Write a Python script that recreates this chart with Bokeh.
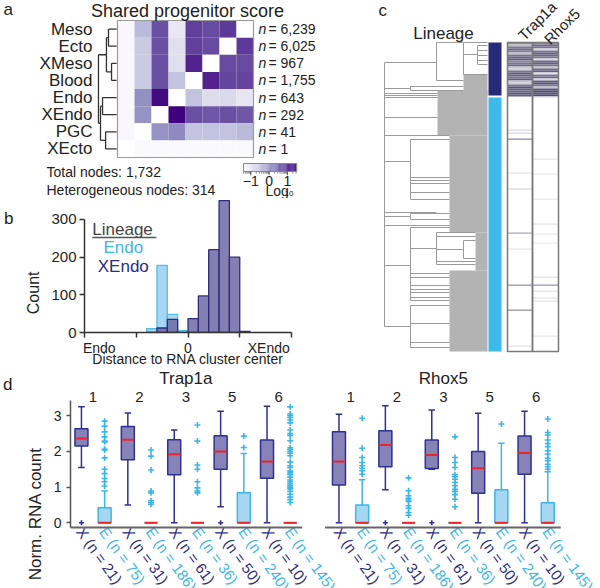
import numpy as np
from bokeh.plotting import figure
from bokeh.models import Range1d, ColumnDataSource, LinearColorMapper, FixedTicker, LinearAxis
from bokeh.layouts import row, column
from bokeh.core.properties import value
from bokeh.palettes import Purples256
from bokeh.transform import transform
from bokeh.embed import file_html
from bokeh.resources import INLINE

FONT = "Liberation Sans"
NAVY = "#2e3190"
NAVY_TXT = "#2a2c7e"
LBLUE = "#3cb6ea"
XFILL = "#8782b8"
EFILL = "#a6d7f2"
RED = "#e8262c"
NaN = float("nan")

# ---------------- panel a data ----------------
lineages = ["Meso", "Ecto", "XMeso", "Blood", "Endo", "XEndo", "PGC", "XEcto"]
lineage_n = ["6,239", "6,025", "967", "1,755", "643", "292", "41", "1"]
score_cols = ["XEcto", "PGC", "XEndo", "Endo", "Blood", "XMeso", "Ecto", "Meso"]
score = [
    [-1.40, -0.35, 0.75, -1.00, 0.90, 0.80, 0.95, NaN],
    [-1.40, -0.55, 0.75, -0.85, 0.90, 0.80, NaN, 0.95],
    [-1.40, -0.55, 0.75, -0.85, 1.15, NaN, 0.80, 0.80],
    [-1.40, -0.55, 0.75, -0.45, NaN, 1.15, 0.85, 0.85],
    [-1.40, 0.15, 1.40, NaN, -0.45, -0.80, -0.75, -0.95],
    [-1.40, 0.10, NaN, 1.48, 0.75, 0.70, 0.75, 0.70],
    [-1.40, NaN, 0.10, 0.20, -0.45, -0.45, -0.45, -0.35],
    [NaN, -1.45, -1.45, -1.45, -1.45, -1.45, -1.45, -1.45],
]
merges_a = [(2, 3, 0.35), (0, 1, 0.53), (9, 8, 0.65), (4, 5, 0.88), (6, 7, 0.70), (11, 12, 1.0), (10, 13, 1.12)]
total_nodes = "1,732"
hetero_nodes = "314"
cbar_low, cbar_high = -1.4, 1.5
cbar_ticks = [-1, 0, 1]

# ---------------- panel b data ----------------
hist_left = [-0.4, -0.3, -0.2, -0.1, 0.0, 0.1, 0.2, 0.3, 0.4, 0.5]
hist_width = 0.1
endo_counts = [10, 178, 48, 5, 0, 0, 0, 0, 0, 0]
xendo_counts = [0, 12, 35, 0, 37, 97, 220, 350, 200, 3]
b_ticks = [-1, -0.5, 0, 0.5, 1]
b_tick_labels = {-0.857: "Endo", 0: "0", 0.78: "XEndo"}
b_count_ticks = [0, 100, 200, 300]

# ---------------- panel c data ----------------
n_leaves = 309
xendo_leaves = (0, 53)
endo_leaves = (55, 309)
dend_v = [(0, 20, 284), (52, 0, 38), (79, 0, 32), (93, 3, 22), (26, 44, 48), (26, 97, 157),
          (26, 171, 177), (26, 185, 258), (52, 190, 222), (79, 198, 216), (26, 263, 305)]
dend_h = [(20, 0, 52), (46, 0, 26), (51, 0, 53), (53, 0, 53), (55, 0, 53), (75, 0, 53), (93, 0, 65),
          (119, 0, 26), (170, 0, 52), (174, 0, 26), (183, 0, 65), (223, 0, 26), (284, 0, 26),
          (44, 26, 79), (48, 26, 79),
          (0, 52, 79), (38, 52, 79), (0, 79, 103), (12, 79, 93), (32, 79, 103),
          (3, 93, 103), (8, 93, 103), (13, 93, 103), (18, 93, 103), (22, 93, 103),
          (97, 26, 65), (135, 26, 65), (138, 26, 65), (141, 26, 65), (150, 26, 65), (157, 26, 65),
          (171, 26, 65), (177, 26, 65),
          (185, 26, 65), (206, 26, 52), (231, 26, 65), (235, 26, 65), (243, 26, 65), (247, 26, 65),
          (250, 26, 65), (255, 26, 65), (258, 26, 65),
          (190, 52, 91), (194, 52, 91), (207, 52, 79), (219, 52, 91), (222, 52, 91),
          (198, 79, 91), (216, 79, 91),
          (263, 26, 65), (281, 26, 65), (300, 26, 65), (305, 26, 65)]
leaf_blocks = [(79, 32, 53), (53, 48, 93), (65, 93, 190), (91, 190, 228), (65, 228, 309)]
genes_c = ["Trap1a", "Rhox5"]
trap_top = [0.55, 0.35, 0.7, 0.75, 0.65, 0.3, 0.7, 0.75, 0.8, 0.6, 0.7, 0.75, 0.3, 0.25,
            0.7, 0.8, 0.75, 0.7, 0.8, 0.3, 0.25, 0.7, 0.85, 0.8, 0.75, 0.85, 0.8]
rhox_top = [0.6, 0.75, 0.7, 0.2, 0.7, 0.8, 0.75, 0.7, 0.2, 0.75, 0.8, 0.7, 0.3, 0.75,
            0.8, 0.15, 0.7, 0.75, 0.2, 0.8, 0.85, 0.7, 0.3, 0.85, 0.9, 0.85, 0.9]
trap_lines_leaf = [87, 90, 96, 130, 146, 190, 206, 242, 267, 303]
trap_lines_val = [0.2, 0.2, 0.6, 0.15, 0.2, 0.45, 0.15, 0.55, 0.55, 0.15]
rhox_lines_leaf = [54, 116, 131, 156, 181, 191, 200, 234, 242, 248, 255, 258, 293]
rhox_lines_val = [0.15, 0.15, 0.12, 0.12, 0.15, 0.12, 0.1, 0.15, 0.5, 0.15, 0.15, 0.15, 0.12]

# ---------------- panel d data ----------------
groups = ["1", "2", "3", "5", "6"]
n_x = [21, 31, 61, 50, 10]
n_e = [75, 186, 36, 240, 145]
d_ticks = [0, 1, 2, 3]
trap_x = dict(lo=[1.55, 0.5, 0.0, 0.45, 0.0], q1=[2.15, 1.77, 1.35, 1.5, 1.25],
              med=[2.36, 2.33, 1.92, 2.0, 1.72], q3=[2.64, 2.7, 2.33, 2.44, 2.32],
              hi=[3.25, 3.08, 2.6, 3.13, 3.27])
trap_x_out = [[0.0], [], [], [0.0], []]
trap_e = dict(lo=[0, 0, 0, 0, 0], q1=[0, 0, 0, 0, 0], med=[0, 0, 0, 0, 0],
              q3=[0.42, 0, 0, 0.84, 0], hi=[0.89, 0, 0, 1.94, 0])
trap_e_out = [[2.85, 2.71, 2.55, 2.41, 2.29, 2.27, 2.06, 2.04, 1.82, 1.50, 1.38, 1.24, 1.15, 1.03],
              [2.04, 1.87, 1.48, 0.89, 0.84, 0.62, 0.57, 0.52],
              [2.74, 2.29, 1.62, 1.50, 1.15, 0.98, 0.89, 0.84],
              [2.43, 2.11],
              [3.25, 3.05, 3.0, 2.95, 2.88, 2.8, 2.6, 2.5, 2.45, 2.3, 2.1, 2.05, 2.0, 1.95, 1.88, 1.7,
               1.6, 1.55, 1.45, 1.4, 1.35, 1.28, 1.2, 1.15, 1.1, 1.05, 1.0, 0.95, 0.88, 0.8, 0.72,
               0.65, 0.57]]
rhox_x = dict(lo=[0, 0.93, 1.5, 0, 0], q1=[1.06, 1.57, 1.52, 0.83, 1.36],
              med=[1.72, 2.18, 1.9, 1.53, 1.96], q3=[2.55, 2.58, 2.32, 2.0, 2.43],
              hi=[3.04, 3.28, 3.16, 3.07, 3.13])
rhox_x_out = [[], [0.0], [0.0], [], []]
rhox_e = dict(lo=[0, 0, 0, 0, 0], q1=[0, 0, 0, 0, 0], med=[0, 0, 0, 0, 0],
              q3=[0.5, 0, 0, 0.93, 0.56], hi=[1.21, 0, 0, 2.23, 1.43])
rhox_e_out = [[2.93, 2.09, 1.83, 1.69, 1.6, 1.53, 1.46, 1.36],
              [1.26, 0.9, 0.76, 0.69, 0.64, 0.6, 0.48, 0.41, 0.29, 0.21],
              [2.41, 1.83, 1.69, 1.55, 1.35, 1.29, 1.22, 1.13, 1.04, 0.94, 0.88, 0.79, 0.66, 0.45],
              [2.77],
              [2.91, 2.53, 2.46, 2.32, 2.22, 2.13, 2.02, 1.93, 1.81, 1.74, 1.64, 1.57, 1.5]]


# ---------------- helpers ----------------
def make_fig(w, h, xr, yr, axes=False, **kw):
    if not axes:
        kw.setdefault("x_axis_location", None)
        kw.setdefault("y_axis_location", None)
    p = figure(width=w, height=h, x_range=xr, y_range=yr, output_backend="svg",
               toolbar_location=None, **kw)
    p.grid.visible = False
    p.outline_line_color = None
    p.min_border_left = p.min_border_right = p.min_border_top = p.min_border_bottom = 0
    p.background_fill_color = "white"
    p.border_fill_color = "white"
    p.frame_align = False
    return p


def txt(p, x, y, s, size, color="#222222", align="left", baseline="middle", angle=0.0, style="normal"):
    p.text(x=[x], y=[y], text=[s], text_font=value(FONT), text_font_size=f"{size}px",
           text_color=color, text_align=align, text_baseline=baseline, angle=angle,
           text_font_style=style)


def style_axis(ax, tick_out=5):
    ax.axis_line_color = "#333333"
    ax.axis_line_width = 1.5
    ax.major_tick_line_color = "#333333"
    ax.major_tick_line_width = 1.5
    ax.major_tick_in = 0
    ax.major_tick_out = tick_out
    ax.minor_tick_line_color = None
    ax.major_label_text_font = FONT
    ax.major_label_text_color = "#222222"


def text_axis(p, pos, text, standoff, size, side="left", orientation="horizontal"):
    ax = LinearAxis(ticker=FixedTicker(ticks=[pos]), major_label_overrides={pos: text},
                    axis_line_color=None, major_tick_line_color=None, minor_tick_line_color=None,
                    major_tick_in=0, major_tick_out=0,
                    major_label_standoff=standoff, major_label_text_font=FONT,
                    major_label_text_font_size=f"{size}px", major_label_text_color="#222222",
                    major_label_orientation=orientation)
    p.add_layout(ax, side)


def interp_palette(c0, c1, n):
    a = np.array([int(c0[i:i + 2], 16) for i in (1, 3, 5)], float)
    b = np.array([int(c1[i:i + 2], 16) for i in (1, 3, 5)], float)
    return ["#%02x%02x%02x" % tuple(np.round(a + (b - a) * t).astype(int)) for t in np.linspace(0, 1, n)]


# ================= panel a =================
WA, HA = 372, 198
CW, CH, HX, HY = 17.0, 17.125, 117.0, 20.0
ax_ = lambda px: (px - HX) / CW
ay_ = lambda py: (py - HY) / CH
pa = make_fig(WA, HA, Range1d(ax_(0), ax_(WA)), Range1d(ay_(HA), ay_(0)))

mapper = LinearColorMapper(palette=list(Purples256[::-1]), low=-1.5, high=1.5, nan_color="white")
cx, cy, cv = [], [], []
for r, rowvals in enumerate(score):
    for c, v in enumerate(rowvals):
        cx.append(c + 0.5)
        cy.append(r + 0.5)
        cv.append(v)
pa.rect(x="x", y="y", width=1, height=1, source=ColumnDataSource(dict(x=cx, y=cy, v=cv)),
        fill_color=transform("v", mapper), line_color=None)
pa.quad(left=[0], right=[len(score_cols)], top=[0], bottom=[len(lineages)], fill_color=None,
        line_color="#9a9a9a", line_width=1.2)

node_y = {i: i + 0.5 for i in range(len(lineages))}
node_h = {i: 0.05 for i in range(len(lineages))}
x0s, y0s, x1s, y1s = [], [], [], []
for k, (a, b, h) in enumerate(merges_a):
    nid = len(lineages) + k
    ya, yb = node_y[a], node_y[b]
    x0s += [-h, -node_h[a], -node_h[b]]
    y0s += [ya, ya, yb]
    x1s += [-h, -h, -h]
    y1s += [yb, ya, yb]
    node_y[nid] = (ya + yb) / 2
    node_h[nid] = h
pa.segment(x0=x0s, y0=y0s, x1=x1s, y1=y1s, line_color="#333333", line_width=1.3)

for i, name in enumerate(lineages):
    txt(pa, ax_(92), i + 0.5, name, 17, align="right")
    txt(pa, ax_(258), i + 0.5, "n", 14, style="italic")
    txt(pa, ax_(268), i + 0.5, "= " + lineage_n[i], 14)

txt(pa, ax_(3), ay_(9), "a", 17)
txt(pa, ax_(187), ay_(10), "Shared progenitor score", 18, align="center")
txt(pa, ax_(46), ay_(171), "Total nodes: " + total_nodes, 14)
txt(pa, ax_(46), ay_(189), "Heterogeneous nodes: " + hetero_nodes, 14)

CB_X0, CB_X1, CB_Y0, CB_Y1 = ax_(243), ax_(296), ay_(163), ay_(171)
cb_vals = np.linspace(cbar_low, cbar_high, 60)
cb_pos = lambda v: CB_X0 + (np.asarray(v) - cbar_low) / (cbar_high - cbar_low) * (CB_X1 - CB_X0)
cb_step = (CB_X1 - CB_X0) / (len(cb_vals) - 1)
pa.quad(left="l", right="r", top=CB_Y0, bottom=CB_Y1,
        source=ColumnDataSource(dict(l=cb_pos(cb_vals) - cb_step / 2, r=cb_pos(cb_vals) + cb_step / 2 + 0.01,
                                     v=cb_vals)),
        fill_color=transform("v", mapper), line_color=None)
pa.quad(left=[CB_X0], right=[CB_X1], top=[CB_Y0], bottom=[CB_Y1], fill_color=None,
        line_color="#888888", line_width=1)
minor = [np.log10(k * d) for d in (0.01, 0.1, 1, 10) for k in range(1, 10)]
minor = [m for m in minor if cbar_low <= m <= cbar_high]
pa.segment(x0=cb_pos(minor), y0=CB_Y1, x1=cb_pos(minor), y1=CB_Y1 + 0.13, line_color="#777777", line_width=0.8)
pa.segment(x0=cb_pos(cbar_ticks), y0=CB_Y1, x1=cb_pos(cbar_ticks), y1=CB_Y1 + 0.22, line_color="#555555", line_width=1)
for t in cbar_ticks:
    txt(pa, float(cb_pos(t)), ay_(180), ("\u2212" + str(abs(t))) if t < 0 else str(t), 14, align="center")
txt(pa, ax_(265), ay_(190), "Log", 14)
txt(pa, ax_(284), ay_(193), "10", 8)

# ================= panel b =================
WB, HB = 372, 172
bx_ = lambda px: (px - 187.7) / 103.5
by_ = lambda py: (332.0 - py) / 0.3767
B_TOP = 198
pb = make_fig(WB, HB, Range1d(-1, 1), Range1d(0, by_(B_TOP)), axes=True)
pb.min_border_left = 84
pb.min_border_right = WB - 291
pb.min_border_top = 0
pb.min_border_bottom = B_TOP + HB - 332
hl = np.array(hist_left)
pb.quad(left=hl, right=hl + hist_width, bottom=0, top=endo_counts, fill_color=EFILL,
        line_color="#55bde9", line_width=1.3)
pb.quad(left=hl, right=hl + hist_width, bottom=0, top=xendo_counts, fill_color="#6f68a6",
        fill_alpha=0.85, line_color="#2e2d7a", line_width=1.3)
xa = pb.xaxis[0]
style_axis(xa)
xa.ticker = FixedTicker(ticks=b_ticks)
xa.major_label_overrides = {t: " " for t in b_ticks}
xa.major_label_text_font_size = "1px"
xa.major_label_standoff = 0
xa.axis_label_standoff = 0
xb = LinearAxis(ticker=FixedTicker(ticks=list(b_tick_labels.keys())), major_label_overrides=b_tick_labels,
                axis_line_color=None, major_tick_line_color=None, minor_tick_line_color=None,
                major_tick_in=0, major_tick_out=0,
                major_label_standoff=-2, major_label_text_font=FONT, major_label_text_font_size="14px",
                major_label_text_color="#222222", axis_label="Distance to RNA cluster center",
                axis_label_text_font=FONT, axis_label_text_font_size="14px",
                axis_label_text_font_style="normal", axis_label_text_color="#222222",
                axis_label_standoff=-8)
pb.add_layout(xb, "below")
ya_b = pb.yaxis[0]
style_axis(ya_b)
ya_b.ticker = FixedTicker(ticks=b_count_ticks)
ya_b.bounds = (0, 300)
ya_b.major_label_text_font_size = "15px"
ya_b.major_label_standoff = 3
text_axis(pb, by_(271), "Count", 15, 16, orientation=np.pi / 2)
text_axis(pb, by_(217.5), "b", 0, 17)
txt(pb, bx_(92), by_(229), "Lineage", 17, color="#444444")
pb.segment(x0=[bx_(92)], y0=[by_(237)], x1=[bx_(156)], y1=[by_(237)], line_color="#555555", line_width=1.3)
txt(pb, bx_(123), by_(247), "Endo", 17, color=LBLUE, align="center")
txt(pb, bx_(123), by_(266), "XEndo", 17, color=NAVY_TXT, align="center")

# ================= panel c =================
WC, HC = 228, HA + HB
pc = make_fig(WC, HC, Range1d(372 - 384, 600 - 384), Range1d(HC - 42, -42))
GRAY = "#b3b3b3"
pc.quad(left=[b[0] for b in leaf_blocks], right=103, top=[b[1] for b in leaf_blocks],
        bottom=[b[2] for b in leaf_blocks], fill_color=GRAY, line_color=None)
pc.segment(x0=[v[0] for v in dend_v], y0=[v[1] for v in dend_v], x1=[v[0] for v in dend_v],
           y1=[v[2] for v in dend_v], line_color="#9a9a9a", line_width=1)
pc.segment(x0=[h[1] for h in dend_h], y0=[h[0] for h in dend_h], x1=[h[2] for h in dend_h],
           y1=[h[0] for h in dend_h], line_color="#9a9a9a", line_width=1)
BAR_L, BAR_R = 104, 117
pc.quad(left=BAR_L, right=BAR_R, top=[xendo_leaves[0], endo_leaves[0]],
        bottom=[xendo_leaves[1], endo_leaves[1]], fill_color=["#262a78", "#3db9ec"],
        line_color=None)
col_lr = [(123, 148), (148, 174)]
emap = LinearColorMapper(palette=interp_palette("#ffffff", "#3d3960", 64), low=0, high=1)
for (L, R), top_vals, lines_leaf, lines_val in zip(col_lr, [trap_top, rhox_top],
                                                     [trap_lines_leaf, rhox_lines_leaf],
                                                     [trap_lines_val, rhox_lines_val]):
    tops = np.arange(len(top_vals)) * 2
    pc.quad(left=L, right=R, top="t", bottom="b",
            source=ColumnDataSource(dict(t=tops, b=tops + 2, v=top_vals)),
            fill_color=transform("v", emap), line_color=None)
    ll = np.array(lines_leaf, float)
    pc.quad(left=L, right=R, top="t", bottom="b",
            source=ColumnDataSource(dict(t=ll, b=ll + 1.3, v=lines_val)),
            fill_color=transform("v", emap), line_color=None)
pc.quad(left=[c[0] for c in col_lr], right=[c[1] for c in col_lr], top=0, bottom=n_leaves,
        fill_color=None, line_color="#7a7a7a", line_width=1.5)
txt(pc, -6, -32, "c", 17)
txt(pc, 59, -9, "Lineage", 17, align="center")
txt(pc, 136, -5, genes_c[0], 15, align="left", baseline="alphabetic", angle=np.pi / 4)
txt(pc, 162, -1, genes_c[1], 15, align="left", baseline="alphabetic", angle=np.pi / 4)

# ================= panel d =================
D_TOP = HA + HB
WD, HD = 600, 588 - D_TOP
PXU, PYU = 23.33, 35.67
dx_ = lambda px: (px - 78) / PXU
dy_ = lambda py: (522.3 - py) / PYU
pd_ = make_fig(WD, HD, Range1d(dx_(67), dx_(600)), Range1d(dy_(588), dy_(D_TOP)), axes=True,
               x_axis_location=None)
pd_.min_border_left = 67
ya = pd_.yaxis[0]
style_axis(ya, tick_out=4)
ya.axis_line_color = "#555555"
ya.major_tick_line_color = "#555555"
ya.ticker = FixedTicker(ticks=d_ticks)
ya.bounds = (dy_(527), dy_(400))
ya.major_label_text_font_size = "14px"
ya.major_label_standoff = 5
text_axis(pd_, dy_(463), "Norm. RNA count", 15, 17, orientation=np.pi / 2)
text_axis(pd_, dy_(375), "d", 1, 17)

GENE_OFFSET = dx_(337)
gene_sets = [("Trap1a", 0.0, trap_x, trap_x_out, trap_e, trap_e_out, dx_(67), dx_(300)),
             ("Rhox5", GENE_OFFSET, rhox_x, rhox_x_out, rhox_e, rhox_e_out, dx_(323), dx_(560))]
BW, CAP = 0.28, 0.14
ANG = -54 * np.pi / 180
for gname, off, xs, xo, es, eo, left_end, right_end in gene_sets:
    xpos = off + np.arange(len(groups)) * 2.0
    epos = xpos + 1.0
    for pos, st, outs, line_c, fill_c, txt_c, ns, lt in [
            (xpos, xs, xo, NAVY, XFILL, NAVY_TXT, n_x, "X"),
            (epos, es, eo, LBLUE, EFILL, LBLUE, n_e, "E")]:
        lo, q1, med, q3, hi = (np.array(st[k], float) for k in ("lo", "q1", "med", "q3", "hi"))
        pd_.segment(x0=pos, y0=q3, x1=pos, y1=hi, line_color=line_c, line_width=1.5)
        pd_.segment(x0=pos, y0=q1, x1=pos, y1=lo, line_color=line_c, line_width=1.5)
        pd_.segment(x0=pos - CAP, y0=hi, x1=pos + CAP, y1=hi, line_color=line_c, line_width=1.5)
        pd_.segment(x0=pos - CAP, y0=lo, x1=pos + CAP, y1=lo, line_color=line_c, line_width=1.5)
        pd_.quad(left=pos - BW, right=pos + BW, bottom=q1, top=q3, fill_color=fill_c,
                 line_color=line_c, line_width=1.5)
        pd_.segment(x0=pos - BW, y0=med, x1=pos + BW, y1=med, line_color=RED, line_width=2)
        ox = [p_ for p_, o in zip(pos, outs) for _ in o]
        oy = [v for o in outs for v in o]
        pd_.scatter(x=ox, y=oy, marker="cross", size=6 if lt == "E" else 5, line_color=line_c,
                    line_width=1.6)
        pd_.text(x=pos - 0.069, y=dy_(528.3), text=[f"{lt} (n = {n})" for n in ns],
                 text_font=value(FONT), text_font_size="15px", text_color=txt_c,
                 text_align="left", text_baseline="middle", angle=ANG)
    pd_.segment(x0=[left_end], y0=[dy_(527)], x1=[right_end], y1=[dy_(527)], line_color="#666666",
                line_width=1.8)
    gc = (xpos + epos) / 2
    pd_.text(x=gc, y=dy_(396), text=groups, text_font=value(FONT), text_font_size="15px",
             text_color="#222222", text_align="center", text_baseline="middle")
    txt(pd_, float(np.mean(gc)), dy_(378), gname, 17, align="center")

root = column(row(column(pa, pb), pc), pd_)
open("out.html", "w").write(file_html(root, INLINE))
